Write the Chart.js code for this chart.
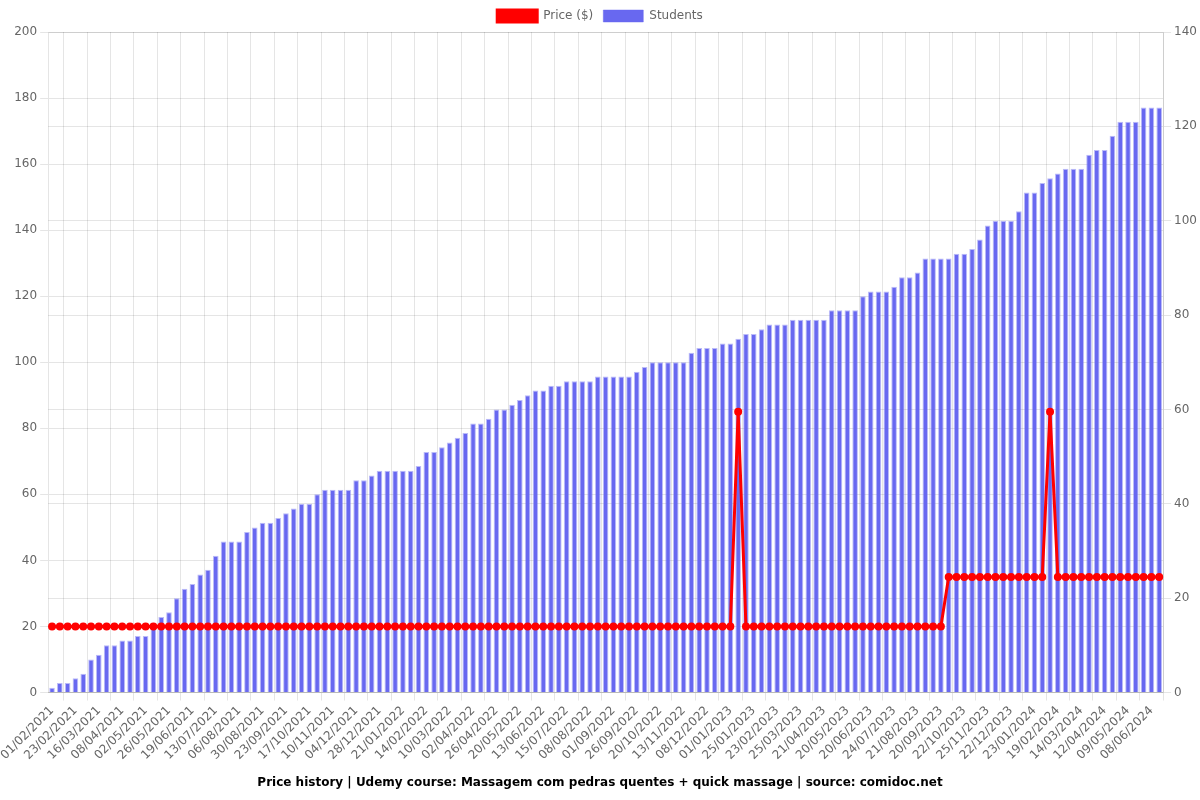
<!DOCTYPE html>
<html>
<head>
<meta charset="utf-8">
<script src="https://cdn.jsdelivr.net/npm/chart.js@4/dist/chart.umd.min.js"></script>
<style>
html,body{margin:0;padding:0;background:#fff;}
#wrap{width:1200px;height:800px;position:relative;}
</style>
</head>
<body>
<div id="wrap"><canvas id="c"></canvas></div>
<script>
const dates = [
"01/02/2021","08/02/2021","15/02/2021","23/02/2021","02/03/2021","09/03/2021",
"16/03/2021","24/03/2021","31/03/2021","08/04/2021","16/04/2021","24/04/2021",
"02/05/2021","10/05/2021","18/05/2021","26/05/2021","03/06/2021","11/06/2021",
"19/06/2021","27/06/2021","05/07/2021","13/07/2021","21/07/2021","29/07/2021",
"06/08/2021","14/08/2021","22/08/2021","30/08/2021","07/09/2021","15/09/2021",
"23/09/2021","01/10/2021","09/10/2021","17/10/2021","25/10/2021","02/11/2021",
"10/11/2021","18/11/2021","26/11/2021","04/12/2021","12/12/2021","20/12/2021",
"28/12/2021","05/01/2022","13/01/2022","21/01/2022","29/01/2022","06/02/2022",
"14/02/2022","22/02/2022","02/03/2022","10/03/2022","18/03/2022","25/03/2022",
"02/04/2022","10/04/2022","18/04/2022","26/04/2022","04/05/2022","12/05/2022",
"20/05/2022","28/05/2022","05/06/2022","13/06/2022","24/06/2022","04/07/2022",
"15/07/2022","23/07/2022","31/07/2022","08/08/2022","16/08/2022","24/08/2022",
"01/09/2022","09/09/2022","17/09/2022","26/09/2022","04/10/2022","12/10/2022",
"20/10/2022","28/10/2022","05/11/2022","13/11/2022","21/11/2022","29/11/2022",
"08/12/2022","16/12/2022","24/12/2022","01/01/2023","09/01/2023","17/01/2023",
"25/01/2023","04/02/2023","13/02/2023","23/02/2023","05/03/2023","15/03/2023",
"25/03/2023","03/04/2023","12/04/2023","21/04/2023","01/05/2023","10/05/2023",
"20/05/2023","31/05/2023","10/06/2023","20/06/2023","02/07/2023","13/07/2023",
"24/07/2023","02/08/2023","11/08/2023","21/08/2023","31/08/2023","10/09/2023",
"20/09/2023","01/10/2023","11/10/2023","22/10/2023","02/11/2023","13/11/2023",
"25/11/2023","04/12/2023","13/12/2023","22/12/2023","02/01/2024","12/01/2024",
"23/01/2024","01/02/2024","10/02/2024","19/02/2024","27/02/2024","06/03/2024",
"14/03/2024","24/03/2024","03/04/2024","12/04/2024","21/04/2024","30/04/2024",
"09/05/2024","19/05/2024","29/05/2024","08/06/2024","18/06/2024"
];

const students = [
1,2,2,3,4,7,8,10,10,11,11,12,12,14,16,17,20,22,23,25,26,29,32,32,
32,34,35,36,36,37,38,39,40,40,42,43,43,43,43,45,45,46,47,47,47,47,47,48,
51,51,52,53,54,55,57,57,58,60,60,61,62,63,64,64,65,65,66,66,66,66,67,67,
67,67,67,68,69,70,70,70,70,70,72,73,73,73,74,74,75,76,76,77,78,78,78,79,
79,79,79,79,81,81,81,81,84,85,85,85,86,88,88,89,92,92,92,92,93,93,94,96,
99,100,100,100,102,106,106,108,109,110,111,111,111,114,115,115,118,121,121,121,124,124,124
];

const price = [
20,20,20,20,20,20,20,20,20,20,20,20,20,20,20,20,20,20,20,20,20,20,20,20,
20,20,20,20,20,20,20,20,20,20,20,20,20,20,20,20,20,20,20,20,20,20,20,20,
20,20,20,20,20,20,20,20,20,20,20,20,20,20,20,20,20,20,20,20,20,20,20,20,
20,20,20,20,20,20,20,20,20,20,20,20,20,20,20,20,85,20,20,20,20,20,20,20,
20,20,20,20,20,20,20,20,20,20,20,20,20,20,20,20,20,20,20,35,35,35,35,35,
35,35,35,35,35,35,35,35,85,35,35,35,35,35,35,35,35,35,35,35,35,35,35
];

const leftTicks = { min: 0, max: 200, step: 20 };
const rightTicks = { min: 0, max: 140, step: 20 };
const titleText = "Price history | Udemy course: Massagem com pedras quentes + quick massage | source: comidoc.net";

Chart.defaults.font.family = "'DejaVu Sans', sans-serif";
Chart.defaults.color = '#666';

new Chart(document.getElementById('c'), {
  type: 'bar',
  data: {
    labels: dates,
    datasets: [
      {
        type: 'line',
        label: 'Price ($)',
        data: price,
        yAxisID: 'y',
        borderColor: 'rgb(255,0,0)',
        backgroundColor: 'rgb(255,0,0)',
        borderWidth: 3,
        pointRadius: 3,
        pointBorderWidth: 2,
        pointBackgroundColor: 'rgb(255,0,0)',
        pointBorderColor: 'rgb(255,0,0)',
        tension: 0,
        order: 0
      },
      {
        type: 'bar',
        label: 'Students',
        data: students,
        yAxisID: 'y1',
        backgroundColor: 'rgb(104,104,240)',
        borderColor: 'rgba(104,104,240,0.45)',
        borderWidth: 1,
        order: 1
      }
    ]
  },
  options: {
    responsive: true,
    maintainAspectRatio: false,
    animation: false,
    plugins: {
      legend: { position: 'top' },
      title: {
        display: true,
        text: titleText,
        position: 'bottom',
        color: '#000',
        font: { size: 12, weight: 'bold' }
      },
      tooltip: { enabled: false }
    },
    scales: {
      x: {
        ticks: { maxRotation: 45, minRotation: 45, autoSkip: true, autoSkipPadding: 0, font: { size: 12 } }
      },
      y: {
        position: 'left',
        min: leftTicks.min, max: leftTicks.max,
        ticks: { stepSize: leftTicks.step, font: { size: 12 } }
      },
      y1: {
        position: 'right',
        min: rightTicks.min, max: rightTicks.max,
        ticks: { stepSize: rightTicks.step, font: { size: 12 } }
      }
    }
  }
});
</script>
</body>
</html>
